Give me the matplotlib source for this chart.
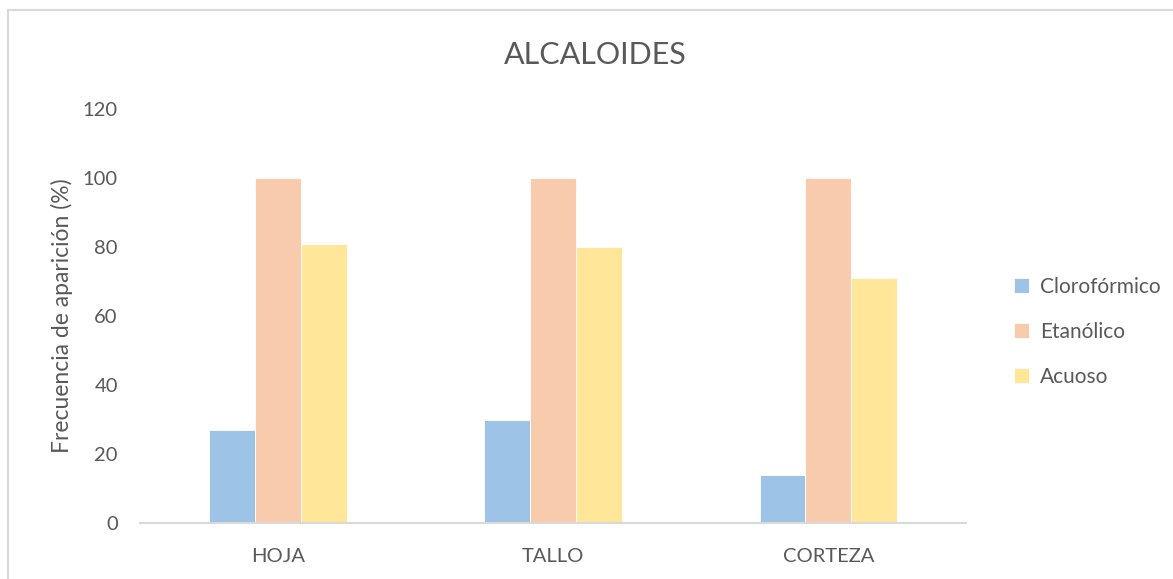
import matplotlib
matplotlib.use("Agg")
import matplotlib.pyplot as plt
from matplotlib.patches import Rectangle
import numpy as np

categories = ["HOJA", "TALLO", "CORTEZA"]
series_names = ["Clorofórmico", "Etanólico", "Acuoso"]
cloroformico = [27, 30, 14]
etanolico = [100, 100, 100]
acuoso = [81, 80, 71]
yticks = [0, 20, 40, 60, 80, 100, 120]

colors = ["#9DC3E6", "#F8CBAD", "#FFE699"]
text_color = "#595959"

plt.rcParams["font.family"] = ["Lato", "DejaVu Sans"]

fig = plt.figure(figsize=(11.73, 5.79), dpi=100)
ax = fig.add_axes([140 / 1173, 1 - 523 / 579, (966 - 140) / 1173, (523 - 109) / 579])

x = np.arange(len(categories))
width = 1 / 6
for i, (vals, name) in enumerate(zip([cloroformico, etanolico, acuoso], series_names)):
    ax.bar(x + (i - 1) * width, vals, width, color=colors[i], label=name,
           edgecolor="white", linewidth=0.6)

ax.set_xlim(-0.5, len(categories) - 0.5)
ax.set_ylim(0, 120)
ax.set_yticks(yticks)
ax.set_xticks(x)
ax.set_xticklabels(categories)
ax.tick_params(length=0, colors=text_color, labelsize=14.5)
ax.tick_params(axis="y", pad=16)
ax.tick_params(axis="x", pad=18)
for s in ["top", "right", "left"]:
    ax.spines[s].set_visible(False)
ax.spines["bottom"].set_color("#D9D9D9")
ax.spines["bottom"].set_linewidth(1.5)

ax.set_ylabel("Frecuencia de aparición (%)", color=text_color, fontsize=16.5, labelpad=7)
fig.text(595 / 1173, 1 - 55 / 579, "ALCALOIDES", ha="center", va="center",
         fontsize=22, color=text_color)

leg = fig.legend(loc="center left", bbox_to_anchor=(995 / 1173, 1 - 332 / 579),
                 frameon=False, fontsize=15, handlelength=0.75, handleheight=0.75,
                 labelspacing=1.2, handletextpad=0.5, labelcolor=text_color)

fig.patches.append(Rectangle((8 / 1173, -0.1), 1.2, 1 - 10 / 579 + 0.1,
                             transform=fig.transFigure, fill=False,
                             edgecolor="#D9D9D9", linewidth=1.5))

fig.savefig("out.png", dpi=100, facecolor="white")
